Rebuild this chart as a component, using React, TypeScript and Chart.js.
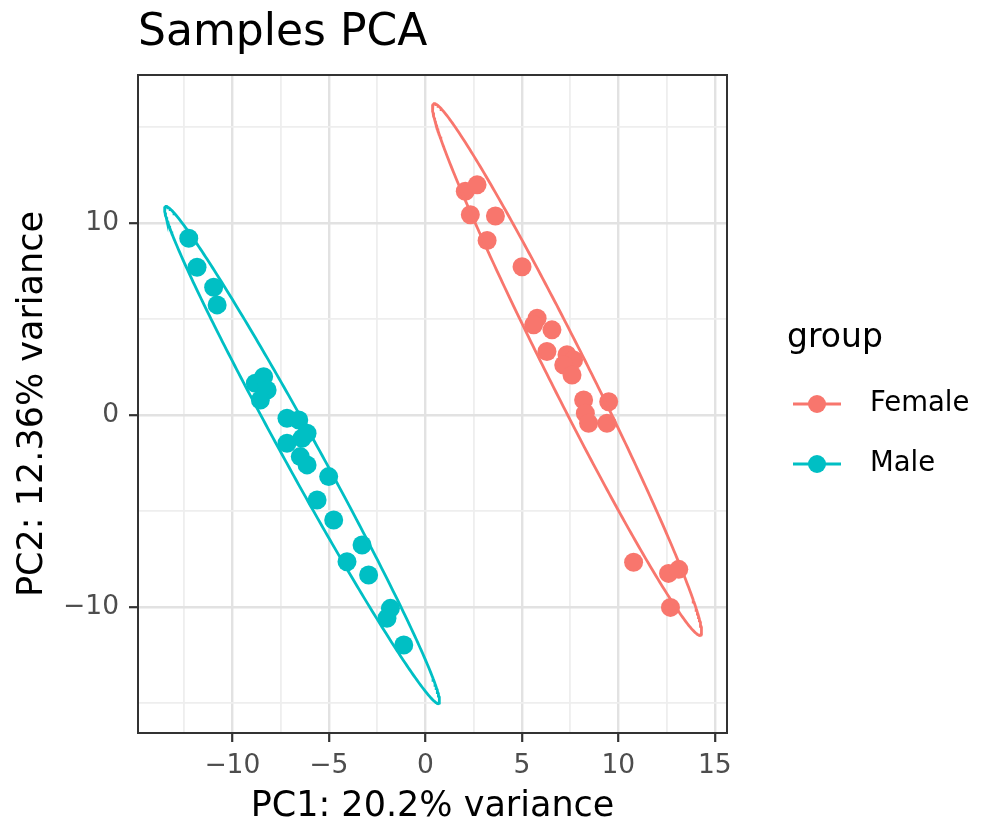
import React, { useEffect, useRef } from "react";
import { Chart, registerables } from "chart.js";

Chart.register(...registerables);

// ---------- data ----------
const groups = ["Female", "Male"];
const groupColors = ["#F8766D", "#00BFC4"];

const femalePC1 = [2.07, 2.68, 2.33, 3.63, 3.2, 5.01, 5.79, 5.61, 6.56, 6.3, 7.34, 7.68, 7.17, 7.6, 8.2, 9.5, 8.29, 8.46, 9.41, 10.79, 12.6, 13.13, 12.7];
const femalePC2 = [11.65, 11.98, 10.42, 10.36, 9.08, 7.72, 5.03, 4.69, 4.43, 3.3, 3.13, 2.86, 2.6, 2.08, 0.78, 0.69, 0.09, -0.43, -0.43, -7.67, -8.25, -8.04, -10.02];

const malePC1 = [-12.26, -11.83, -10.97, -10.79, -8.81, -8.38, -8.2, -8.55, -7.17, -6.56, -7.17, -6.39, -6.13, -6.48, -6.13, -5.01, -5.61, -4.75, -3.28, -4.06, -2.94, -1.81, -1.99, -1.12];
const malePC2 = [9.2, 7.69, 6.65, 5.73, 1.65, 1.99, 1.3, 0.78, -0.17, -0.26, -1.47, -1.21, -0.95, -2.17, -2.6, -3.21, -4.43, -5.47, -6.77, -7.64, -8.33, -10.07, -10.59, -11.98];

// 95% ellipse parameters per group (data units): centre, semi-axes, rotation
const ellipseCenterPC1 = [7.34, -6.39];
const ellipseCenterPC2 = [2.37, -2.08];
const ellipseSemiMajor = [15.46, 14.74];
const ellipseSemiMinor = [1.04, 0.9];
const ellipseAngleDeg = [-63.45, -61.3];

const xMin = -14.89;
const xMax = 15.63;
const yMin = -16.56;
const yMax = 17.7;
const xMajorStep = 5;
const yMajorStep = 10;

const plotTitle = "Samples PCA";
const xTitle = "PC1: 20.2% variance";
const yTitle = "PC2: 12.36% variance";
const legendTitle = "group";

const FONT = "'DejaVu Sans', 'Liberation Sans', sans-serif";

function fmt(v: number): string {
  const r = Math.round(v * 100) / 100;
  return r < 0 ? "\u2212" + Math.abs(r) : String(r);
}

function isMultiple(v: number, step: number): boolean {
  const q = v / step;
  return Math.abs(q - Math.round(q)) < 1e-6;
}

function ellipseData(i: number) {
  const pts: { x: number; y: number }[] = [];
  const n = 360;
  const th = (ellipseAngleDeg[i] * Math.PI) / 180;
  for (let k = 0; k <= n; k++) {
    const t = (2 * Math.PI * k) / n;
    const u = ellipseSemiMajor[i] * Math.cos(t);
    const v = ellipseSemiMinor[i] * Math.sin(t);
    pts.push({
      x: ellipseCenterPC1[i] + u * Math.cos(th) - v * Math.sin(th),
      y: ellipseCenterPC2[i] + u * Math.sin(th) + v * Math.cos(th),
    });
  }
  return pts;
}

function pointsOf(xs: number[], ys: number[]) {
  return xs.map((x, i) => ({ x, y: ys[i] }));
}

const decorPlugin = {
  id: "decor",
  afterDraw(chart: any) {
    const { ctx, chartArea } = chart;
    ctx.save();
    // panel border
    ctx.strokeStyle = "#333333";
    ctx.lineWidth = 2;
    ctx.strokeRect(chartArea.left, chartArea.top, chartArea.right - chartArea.left, chartArea.bottom - chartArea.top);

    // title
    ctx.fillStyle = "#000000";
    ctx.font = `44px ${FONT}`;
    ctx.textAlign = "left";
    ctx.textBaseline = "alphabetic";
    ctx.fillText(plotTitle, chartArea.left, 45);

    // legend
    const lx = 787;
    ctx.font = `33px ${FONT}`;
    ctx.fillText(legendTitle, lx, 347);
    const rows = [404, 464];
    groups.forEach((g, i) => {
      const y = rows[i];
      ctx.strokeStyle = groupColors[i];
      ctx.lineWidth = 2.8;
      ctx.beginPath();
      ctx.moveTo(793, y);
      ctx.lineTo(841, y);
      ctx.stroke();
      ctx.fillStyle = groupColors[i];
      ctx.beginPath();
      ctx.arc(817, y, 9, 0, Math.PI * 2);
      ctx.fill();
      ctx.fillStyle = "#000000";
      ctx.font = `27.5px ${FONT}`;
      ctx.textBaseline = "middle";
      ctx.fillText(g, 870, y);
      ctx.textBaseline = "alphabetic";
    });
    ctx.restore();
  },
};

export default function App() {
  const ref = useRef<HTMLCanvasElement | null>(null);

  useEffect(() => {
    if (!ref.current) return;
    const grid = (step: number) => ({
      color: (c: any) => (c.tick && isMultiple(c.tick.value, step) ? "#E2E2E2" : "#EEEEEE"),
      lineWidth: (c: any) => (c.tick && isMultiple(c.tick.value, step) ? 2.4 : 1.8),
      drawTicks: true,
      tickLength: 9,
      tickColor: (c: any) => (c.tick && isMultiple(c.tick.value, step) ? "#333333" : "rgba(0,0,0,0)"),
      tickWidth: 2.2,
    });

    const chart = new Chart(ref.current, {
      type: "scatter",
      data: {
        datasets: [
          {
            label: "Female ellipse",
            data: ellipseData(0),
            showLine: true,
            borderColor: groupColors[0],
            borderWidth: 2.8,
            pointRadius: 0,
            fill: false,
            tension: 0,
          },
          {
            label: "Male ellipse",
            data: ellipseData(1),
            showLine: true,
            borderColor: groupColors[1],
            borderWidth: 2.8,
            pointRadius: 0,
            fill: false,
            tension: 0,
          },
          {
            label: groups[0],
            data: pointsOf(femalePC1, femalePC2),
            backgroundColor: groupColors[0],
            borderWidth: 0,
            pointRadius: 9.5,
          },
          {
            label: groups[1],
            data: pointsOf(malePC1, malePC2),
            backgroundColor: groupColors[1],
            borderWidth: 0,
            pointRadius: 9.5,
          },
        ],
      },
      options: {
        animation: false,
        responsive: false,
        events: [],
        layout: { padding: { top: 75, right: 261, left: 0, bottom: 0 } },
        plugins: {
          legend: { display: false },
          tooltip: { enabled: false },
          title: { display: false },
        },
        scales: {
          x: {
            type: "linear",
            min: xMin,
            max: xMax,
            border: { display: false },
            grid: grid(xMajorStep) as any,
            ticks: {
              stepSize: 2.5,
              includeBounds: false,
              autoSkip: false,
              maxRotation: 0,
              padding: 8,
              color: "#4D4D4D",
              font: { family: FONT, size: 26.5 },
              callback: (v: any) => (isMultiple(Number(v), xMajorStep) ? fmt(Number(v)) : ""),
            },
            title: {
              display: true,
              text: xTitle,
              color: "#000000",
              font: { family: FONT, size: 35, lineHeight: 1 },
              padding: { top: 0, bottom: 2 },
            },
            afterFit: (s: any) => {
              s.height = 93;
            },
          },
          y: {
            type: "linear",
            min: yMin,
            max: yMax,
            border: { display: false },
            grid: grid(yMajorStep) as any,
            ticks: {
              stepSize: 5,
              includeBounds: false,
              autoSkip: false,
              padding: 10,
              color: "#4D4D4D",
              font: { family: FONT, size: 26.5 },
              callback: (v: any) => (isMultiple(Number(v), yMajorStep) ? fmt(Number(v)) : ""),
            },
            title: {
              display: true,
              text: yTitle,
              color: "#000000",
              font: { family: FONT, size: 35, lineHeight: 1 },
              padding: { top: 15, bottom: 0 },
            },
            afterFit: (s: any) => {
              s.width = 138;
            },
          },
        },
      },
      plugins: [decorPlugin],
    } as any);
    return () => chart.destroy();
  }, []);

  return (
    <div style={{ position: "fixed", left: 0, top: 0, width: 988, height: 826, background: "#ffffff" }}>
      <canvas ref={ref} width={988} height={826} style={{ display: "block", width: 988, height: 826 }} />
    </div>
  );
}
